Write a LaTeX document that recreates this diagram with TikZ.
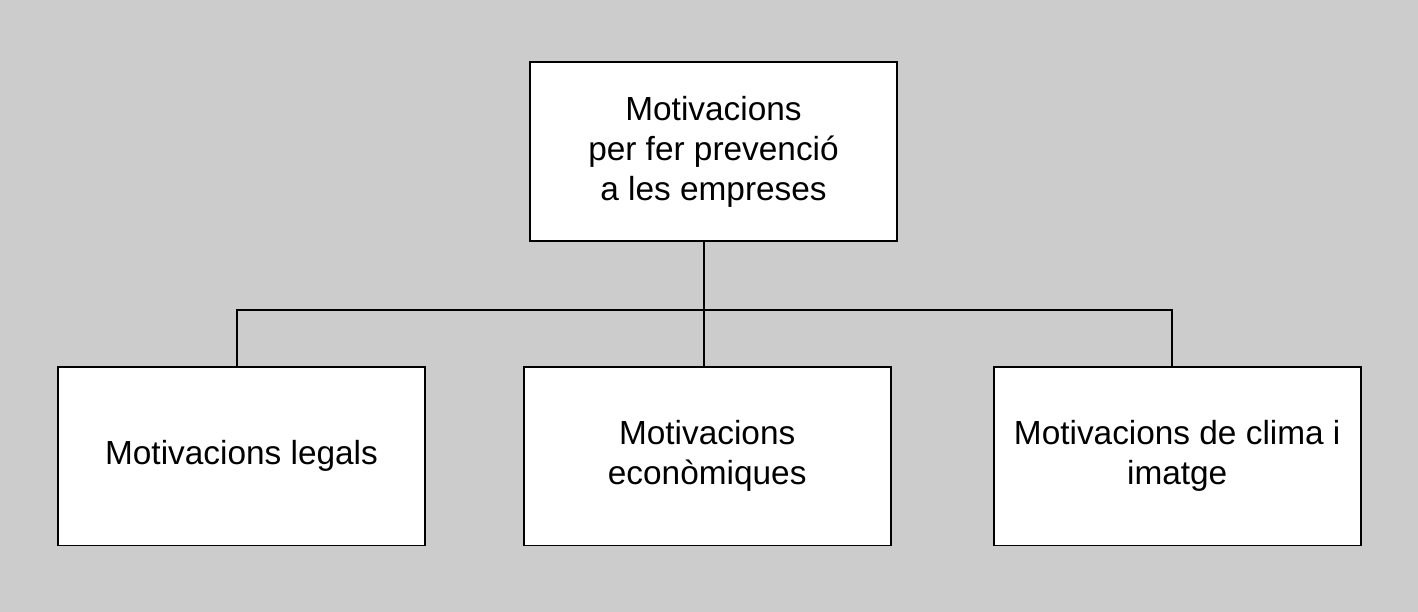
\documentclass[tikz,border=0pt]{standalone}
\usepackage{fontspec}
\setmainfont{Liberation Sans}
\definecolor{bggray}{HTML}{CCCCCC}
\newcommand*{\boxw}{7.34cm}
\newcommand*{\boxh}{3.57cm}

\begin{document}
\begin{tikzpicture}
[
	x=0.02cm,y=0.02cm,
	motbox/.style={rectangle,draw,fill=white,line width=1pt,minimum width=\boxw,minimum height=\boxh,align=center,inner sep=0pt,font=\fontsize{19}{22.7}\selectfont},
	branch/.style={line width=1pt}
]

	% background
	\fill[bggray] (0,0) rectangle (1418,612);
	\useasboundingbox (0,0) rectangle (1418,612);

	% boxes
	\node[motbox] (top) at (713.5,460.5) {Motivacions\\per fer prevenció\\a les empreses};
	\node[motbox] (legal) at (241.5,155.7) {Motivacions legals};
	\node[motbox] (econ) at (707.2,155.7) {Motivacions\\econòmiques};
	\node[motbox] (clima) at (1177.2,155.7) {Motivacions de clima i\\imatge};

	% connectors
	\coordinate (hubL) at (236.7,302);
	\coordinate (hubM) at (704.3,302);
	\coordinate (hubR) at (1172.3,302);
	\draw[branch] (hubM |- top.south) -- (hubM |- econ.north);
	\draw[branch] (hubL |- legal.north) -- (hubL) -- (hubR) -- (hubR |- clima.north);

\end{tikzpicture}
\end{document}
